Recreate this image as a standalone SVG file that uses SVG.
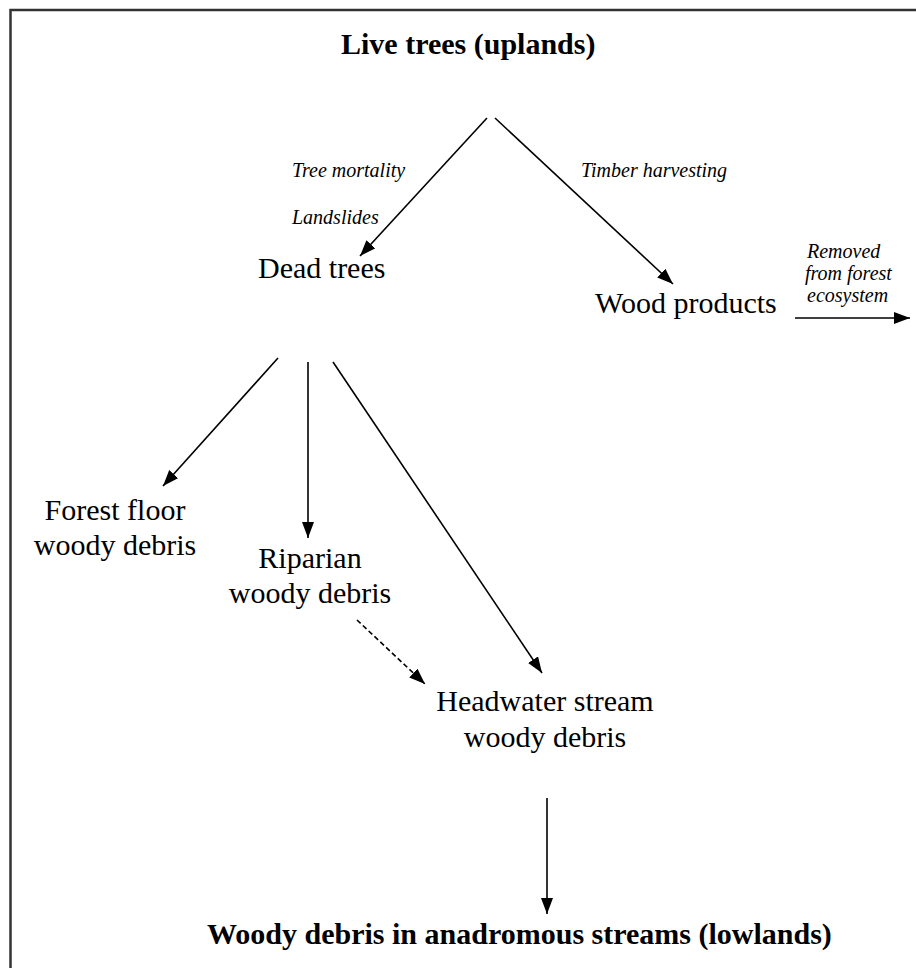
<svg xmlns="http://www.w3.org/2000/svg" width="916" height="968" viewBox="0 0 916 968">
  <style>
    .title { font-family: "Liberation Serif", "Times New Roman", serif; font-size: 30px; font-weight: bold; fill: #000; }
    .node { font-family: "Liberation Serif", "Times New Roman", serif; font-size: 30px; fill: #000; }
    .label { font-family: "Liberation Serif", "Times New Roman", serif; font-size: 20px; font-style: italic; fill: #000; }
    .flow { stroke: #000; stroke-width: 1.6; fill: none; marker-end: url(#head); }
    .dashed { stroke-dasharray: 5 3; }
  </style>
  <defs>
    <marker id="head" markerUnits="userSpaceOnUse" markerWidth="18" markerHeight="14" refX="16" refY="6" orient="auto">
      <path d="M0,0 L16,6 L0,12 z" fill="#000"/>
    </marker>
  </defs>

  <rect width="916" height="968" fill="#fff"/>
  <!-- frame, open past the right and bottom edges -->
  <rect x="10.5" y="10" width="920" height="970" fill="none" stroke="#333" stroke-width="2.5"/>

  <g id="live-trees">
    <text class="title" x="341" y="54">Live trees (uplands)</text>
  </g>
  <g id="dead-trees">
    <text class="node" x="258" y="278">Dead trees</text>
  </g>
  <g id="wood-products">
    <text class="node" x="595" y="313">Wood products</text>
  </g>
  <g id="forest-floor">
    <text class="node" text-anchor="middle" x="115" y="520">Forest floor</text>
    <text class="node" text-anchor="middle" x="115" y="555">woody debris</text>
  </g>
  <g id="riparian">
    <text class="node" text-anchor="middle" x="310" y="568">Riparian</text>
    <text class="node" text-anchor="middle" x="310" y="603">woody debris</text>
  </g>
  <g id="headwater">
    <text class="node" text-anchor="middle" x="545" y="711">Headwater stream</text>
    <text class="node" text-anchor="middle" x="545" y="747">woody debris</text>
  </g>
  <g id="lowlands">
    <text class="title" x="207" y="944">Woody debris in anadromous streams (lowlands)</text>
  </g>

  <g id="connectors">
    <line class="flow" x1="487" y1="118" x2="360" y2="256"/>
    <line class="flow" x1="495" y1="118" x2="673" y2="284"/>
    <line class="flow" x1="795" y1="318" x2="910" y2="318"/>
    <line class="flow" x1="278" y1="358" x2="163" y2="486"/>
    <line class="flow" x1="308" y1="362" x2="308" y2="538"/>
    <line class="flow" x1="333" y1="362" x2="542" y2="673"/>
    <line class="flow dashed" x1="357" y1="620" x2="425" y2="684"/>
    <line class="flow" x1="547" y1="798" x2="547" y2="914"/>
  </g>

  <g id="connector-labels">
    <text class="label" x="292" y="177">Tree mortality</text>
    <text class="label" x="292" y="224">Landslides</text>
    <text class="label" x="581" y="177">Timber harvesting</text>
    <text class="label" x="807" y="258">Removed</text>
    <text class="label" x="805" y="280">from forest</text>
    <text class="label" x="807" y="302">ecosystem</text>
  </g>
</svg>
